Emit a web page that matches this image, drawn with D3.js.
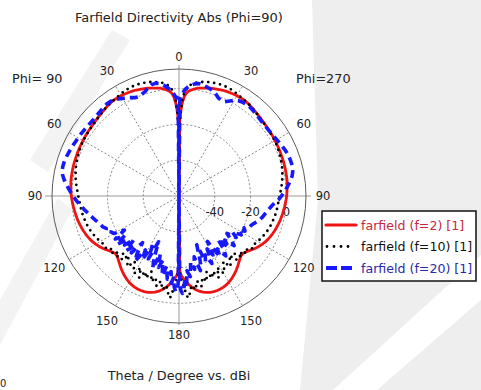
<!DOCTYPE html>
<html>
<head>
<meta charset="utf-8">
<script src="https://cdn.jsdelivr.net/npm/d3@7"></script>
<style>
  html, body { margin: 0; padding: 0; background: #fff; }
  svg { display: block; font-family: "DejaVu Sans", Verdana, sans-serif; }
</style>
</head>
<body>
<div id="app"></div>
<script>
// theta in degrees (0 = top), same sampling for every series
const theta = [
  0, 0.5, 1, 2, 3, 4, 5, 6, 8, 10,
  12, 14, 16, 18, 20, 22, 24, 26, 28, 30,
  32, 34, 36, 38, 40, 42, 44, 46, 48, 50,
  52, 54, 56, 58, 60, 62, 64, 66, 68, 70,
  72, 74, 76, 78, 80, 82, 84, 86, 88, 90,
  92, 94, 96, 98, 100, 102, 104, 106, 108, 110,
  112, 114, 116, 118, 120, 122, 124, 126, 128, 130,
  132, 134, 136, 138, 140, 142, 144, 146, 148, 150,
  152, 154, 156, 158, 160, 162, 164, 166, 168, 170,
  172, 174, 175, 176, 177, 178, 179, 179.5, 180
]

// f=2, dBi (same on phi=90 and phi=270)
const redDb = [
  -60, -18.6, -13.6, -8, -4.5, -2.5, -1.4, -0.7, 0.4, 1.2,
  1.7, 2.2, 2.7, 3.1, 3.5, 3.9, 4.2, 4.4, 4.6, 4.7,
  4.8, 4.8, 4.6, 4.3, 4.0, 3.6, 3.3, 3.0, 2.8, 2.6,
  2.4, 2.3, 2.2, 2.1, 2.0, 1.9, 1.8, 1.7, 1.6, 1.5,
  1.5, 1.4, 1.3, 1.2, 1.1, 1.0, 0.8, 0.6, 0.4, 0.2,
  -0.1, -0.4, -0.7, -1.0, -1.3, -1.6, -1.9, -2.3, -2.7, -3.1,
  -3.6, -4.1, -4.7, -5.4, -6.2, -7.1, -8.1, -9.2, -10.3, -11.3,
  -12.0, -11.8, -11.0, -10.0, -8.9, -7.8, -6.8, -5.9, -5.0, -4.3,
  -3.7, -3.3, -3.1, -3.0, -3.1, -3.4, -3.9, -4.6, -5.6, -6.9,
  -8.6, -10.5, -11.8, -13, -14, -15, -16.5, -20, -60
]

// f=10
const blackDb = [
  -60, -25, -15, -6, -2, 0, 1.5, 2.5, 3.8, 4.6,
  5.2, 5.7, 6.0, 6.3, 6.5, 6.6, 6.5, 6.3, 6.0, 5.6,
  5.2, 4.9, 4.6, 4.3, 4.0, 3.6, 3.2, 2.9, 2.6, 2.4,
  2.2, 2.1, 2.0, 1.9, 1.8, 1.6, 1.4, 1.1, 0.8, 0.5,
  0.2, -0.1, -0.5, -0.9, -1.3, -1.8, -2.3, -2.8, -3.3, -3.7,
  -4.1, -4.4, -4.6, -4.8, -5.0, -5.3, -5.6, -5.9, -6.2, -6.6,
  -7.0, -7.5, -8.0, -8.6, -9.2, -9.8, -10.4, -9.6, -11.8, -10.2,
  -13.5, -11, -15.2, -12, -16.5, -13, -11.2, -15.8, -12.4, -10,
  -14.6, -9.2, -13.8, -10.5, -15, -9.8, -12.6, -8, -11.4, -6.8,
  -9.5, -4.2, -2.8, -6, -9, -12, -16, -22, -60
]

// f=20, phi=90 side (left)
const blueDb90 = [
  -60, -6, -5, -4.5, -2.8, -1.4, -0.2, 0.9, 2.6, 3.8,
  4.4, 4.0, 2.8, 1.4, 0.6, -0.2, 0.2, 1.2, 2.2, 3.0,
  4.0, 4.8, 5.3, 5.4, 5.2, 4.8, 4.5, 4.3, 4.2, 4.2,
  4.3, 4.5, 4.7, 4.9, 5.1, 5.3, 5.6, 5.9, 6.2, 6.5,
  6.8, 7.0, 7.0, 6.8, 6.0, 4.8, 3.4, 2.0, 0.6, -0.8,
  -2.2, -3.6, -5.0, -6.4, -7.8, -9.0, -10.2, -11.3, -12.4, -13.4,
  -14.0, -15.5, -14.6, -17.2, -18.0, -24, -17, -22.5, -16, -21.5,
  -19, -25, -17.5, -22, -18.5, -27, -20, -16, -24.5, -19,
  -28, -21, -32, -23, -17, -26, -18.5, -23, -14.5, -20,
  -13, -17.5, -11, -14, -9, -6.5, -8, -12, -60
]

// f=20, phi=270 side (right)
const blueDb270 = [
  -60, -6, -4.5, -2.5, -0.8, 0.5, 1.5, 2.2, 3.3, 3.8,
  3.6, 3.0, 2.4, 1.8, 0.5, -1.0, -1.5, -1.4, 0.2, 1.8,
  2.8, 3.3, 3.6, 3.6, 3.4, 3.0, 2.7, 2.4, 2.2, 2.1,
  2.1, 2.2, 2.4, 2.7, 3.1, 3.5, 4.0, 4.5, 4.9, 5.2,
  5.4, 5.5, 5.4, 5.0, 4.2, 3.0, 1.6, 0.2, -1.3, -2.7,
  -4.2, -6.3, -7.8, -9.0, -10.0, -11.0, -11.8, -12.8, -14.0, -15.3,
  -16.4, -17.0, -19.5, -18.2, -21.5, -19, -24, -20.5, -26, -22,
  -18.5, -24.5, -20, -27.5, -21, -17.5, -23.5, -19, -30, -22,
  -26.5, -18, -24, -20.5, -31, -21.5, -16.5, -25, -18, -22.5,
  -14.5, -18, -10.5, -13, -8, -5.5, -7.5, -12, -60
]

const angleTicks = [0, 30, 60, 90, 120, 150, 180]
const ringTicks = [-40, -20, 0]
const seriesNames = ["farfield (f=2) [1]", "farfield (f=10) [1]", "farfield (f=20) [1]"]

const W = 481, H = 390
const cx = 179, cy = 196, R = 127

const svg = d3.select("#app").append("svg")
  .attr("width", W)
  .attr("height", H)

// faint watermark behind the plot
const wm = svg.append("g").attr("fill", "#eeeeee")
wm.append("polygon").attr("points", "312,0 481,0 481,390 300,390 318,200")
wm.append("polygon").attr("points", "333,390 377,390 481,300 481,255").attr("fill", "#fff")
wm.append("polygon").attr("points", "0,300 0,345 72,210 58,198").attr("fill", "#f3f3f3")
wm.append("polygon").attr("points", "30,160 48,172 130,40 112,30").attr("fill", "#f3f3f3")

const fr = d3.scaleLinear().domain([-60, 11]).range([0, R]).clamp(true)
const rad = d => d * Math.PI / 180

const g = svg.append("g").attr("transform", `translate(${cx},${cy})`)

// dashed rings
g.selectAll("circle.ring")
  .data(ringTicks)
  .join("circle")
    .attr("class", "ring")
    .attr("r", d => fr(d))
    .attr("fill", "none")
    .attr("stroke", "#6a6a6a")
    .attr("stroke-width", 0.8)
    .attr("stroke-dasharray", "2,2")

// dashed spokes every 30 deg
const spokes = angleTicks.filter(a => a % 90 !== 0)
g.selectAll("line.spoke")
  .data(spokes.concat(spokes.map(a => -a)))
  .join("line")
    .attr("class", "spoke")
    .attr("x2", d => R * Math.sin(rad(d)))
    .attr("y2", d => -R * Math.cos(rad(d)))
    .attr("stroke", "#6a6a6a")
    .attr("stroke-width", 0.8)
    .attr("stroke-dasharray", "2,2")

// solid cross
g.append("line").attr("x1", -134).attr("x2", 132)
  .attr("stroke", "#999").attr("stroke-width", 1)
g.append("line").attr("y1", -131).attr("y2", 129)
  .attr("stroke", "#999").attr("stroke-width", 1)

g.append("circle")
  .attr("r", R)
  .attr("fill", "none")
  .attr("stroke", "#5a5a5a")
  .attr("stroke-width", 1)

// ring labels
g.selectAll("text.ring")
  .data(ringTicks)
  .join("text")
    .attr("class", "ring")
    .attr("x", d => fr(d))
    .attr("y", 16)
    .attr("text-anchor", "middle")
    .attr("dominant-baseline", "central")
    .attr("font-size", 11.5)
    .attr("fill", "#222")
    .text(d => d)

// angle labels on both halves
const angLabels = []
angleTicks.forEach(a => {
  angLabels.push({ a: a, t: a })
  if (a % 180 !== 0) angLabels.push({ a: -a, t: a })
})
g.selectAll("text.ang")
  .data(angLabels)
  .join("text")
    .attr("class", "ang")
    .attr("x", d => (d.a % 180 === 0 ? 139 : 144) * Math.sin(rad(d.a)))
    .attr("y", d => -(d.a % 180 === 0 ? 139 : 144) * Math.cos(rad(d.a)))
    .attr("text-anchor", "middle")
    .attr("dominant-baseline", "central")
    .attr("font-size", 11.5)
    .attr("fill", "#222")
    .text(d => d.t)

// curves: right half (phi=270) going down, then left half (phi=90) back up
const radial = d3.lineRadial()
  .angle(d => d[0])
  .radius(d => fr(d[1]))

function loop(right, left) {
  const pts = theta.map((t, i) => [rad(t), right[i]])
  for (let i = theta.length - 1; i >= 0; i--) pts.push([-rad(theta[i]), left[i]])
  return pts
}

const series = [
  { name: seriesNames[0], pts: loop(redDb, redDb), color: "#ee1414", w: 2.8, dash: null, cap: "round" },
  { name: seriesNames[1], pts: loop(blackDb, blackDb), color: "#000", w: 2.8, dash: "0,6", cap: "round" },
  { name: seriesNames[2], pts: loop(blueDb270, blueDb90), color: "#1818ff", w: 3.6, dash: "8,5", cap: "butt" }
]

g.selectAll("path.curve")
  .data(series)
  .join("path")
    .attr("class", "curve")
    .attr("d", d => radial(d.pts))
    .attr("fill", "none")
    .attr("stroke", d => d.color)
    .attr("stroke-width", d => d.w)
    .attr("stroke-dasharray", d => d.dash)
    .attr("stroke-linecap", d => d.cap)
    .attr("stroke-linejoin", "round")

// texts
svg.append("text")
  .attr("x", 179).attr("y", 17)
  .attr("text-anchor", "middle")
  .attr("dominant-baseline", "central")
  .attr("font-size", 13)
  .attr("fill", "#222")
  .text("Farfield Directivity Abs (Phi=90)")

svg.append("text")
  .attr("x", 12).attr("y", 78)
  .attr("dominant-baseline", "central")
  .attr("font-size", 12.8)
  .attr("fill", "#222")
  .text("Phi= 90")

svg.append("text")
  .attr("x", 296).attr("y", 78)
  .attr("dominant-baseline", "central")
  .attr("font-size", 12.8)
  .attr("fill", "#222")
  .text("Phi=270")

svg.append("text")
  .attr("x", 179).attr("y", 375)
  .attr("text-anchor", "middle")
  .attr("dominant-baseline", "central")
  .attr("font-size", 12.8)
  .attr("fill", "#222")
  .text("Theta / Degree vs. dBi")

svg.append("text")
  .attr("x", 0).attr("y", 383)
  .attr("dominant-baseline", "central")
  .attr("font-size", 10)
  .attr("fill", "#222")
  .text("0")

// legend
const lg = svg.append("g").attr("transform", "translate(322,211)")
lg.append("rect")
  .attr("width", 154).attr("height", 70)
  .attr("fill", "#fff")
  .attr("stroke", "#111")
  .attr("stroke-width", 1.5)

const textColors = ["#c8283c", "#111", "#2a2aa8"]
const items = lg.selectAll("g.item")
  .data(series)
  .join("g")
    .attr("class", "item")
    .attr("transform", (d, i) => `translate(0,${14 + i * 21.5})`)
items.append("line")
  .attr("x1", (d, i) => i === 1 ? 5 : 4)
  .attr("x2", (d, i) => i === 1 ? 30 : 34)
  .attr("stroke", d => d.color)
  .attr("stroke-width", (d, i) => i === 0 ? 3.2 : i === 1 ? 2.8 : 4)
  .attr("stroke-dasharray", (d, i) => i === 1 ? "0,7" : i === 2 ? "11,4" : null)
  .attr("stroke-linecap", d => d.cap)
items.append("text")
  .attr("x", 39)
  .attr("dominant-baseline", "central")
  .attr("font-size", 12.6)
  .attr("fill", (d, i) => textColors[i])
  .text(d => d.name)
</script>
</body>
</html>
